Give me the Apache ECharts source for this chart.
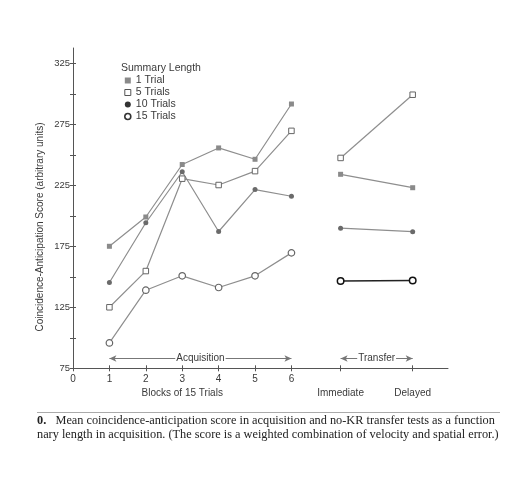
<!DOCTYPE html>
<html>
<head>
<meta charset="utf-8">
<script src="https://cdn.jsdelivr.net/npm/echarts@6/dist/echarts.min.js"></script>
<style>
  html, body { margin: 0; padding: 0; background: #fff; }
  #chart { width: 523px; height: 479px; }
</style>
</head>
<body>
<div id="chart"></div>
<script>
// x positions
var blocks = [1, 2, 3, 4, 5, 6];
var transferPos = [7.35, 9.33];
var transferLabels = ['Immediate', 'Delayed'];

// scores
var oneTrialAcq = [175, 199, 242, 255.6, 246.3, 291.6];
var oneTrialTr = [234, 223];
var fiveTrialAcq = [125, 154.7, 230.4, 225.2, 236.6, 269.6];
var fiveTrialTr = [247.4, 299.2];
var tenTrialAcq = [145.3, 194.3, 236.1, 187.1, 221.5, 216];
var tenTrialTr = [189.8, 187];
var fifteenTrialAcq = [95.8, 139, 150.8, 141.2, 150.8, 169.6];
var fifteenTrialTr = [146.5, 147];

// ticks
var yTicks = [75, 100, 125, 150, 175, 200, 225, 250, 275, 300, 325];
var yLabels = [75, 125, 175, 225, 275, 325];
var xTicks = [0, 1, 2, 3, 4, 5, 6];
var arrowLevel = 83;

var zip = function (xs, ys) {
  return xs.map(function (x, i) { return [x, ys[i]]; });
};

var gray = '#8e8e8e';
var textColor = '#3a3a3a';

var lineSeries = function (name, xs, ys, symbol, size, itemStyle, lineColor, lineWidth) {
  return {
    name: name,
    type: 'line',
    data: zip(xs, ys),
    symbol: symbol,
    symbolSize: size,
    lineStyle: { color: lineColor || gray, width: lineWidth || 1.2 },
    itemStyle: itemStyle,
    emphasis: { disabled: true },
    animation: false,
    z: 3
  };
};

var s1 = { color: '#8a8a8a', borderColor: '#8a8a8a', borderWidth: 0 };
var s5 = { color: '#fff', borderColor: '#666', borderWidth: 1 };
var s10 = { color: '#6a6a6a', borderColor: '#6a6a6a', borderWidth: 0 };
var s15 = { color: '#fff', borderColor: '#666', borderWidth: 1.2 };
var s15t = { color: '#fff', borderColor: '#111', borderWidth: 1.5 };

var arrowMark = function (from, to, text) {
  return [{ coord: [from, arrowLevel] }, { coord: [to, arrowLevel], label: { formatter: text } }];
};

var series = [
  lineSeries('1 Trial', blocks, oneTrialAcq, 'rect', 5, s1),
  lineSeries('1 Trial', transferPos, oneTrialTr, 'rect', 5, s1),
  lineSeries('5 Trials', blocks, fiveTrialAcq, 'rect', 5.5, s5),
  lineSeries('5 Trials', transferPos, fiveTrialTr, 'rect', 5.5, s5),
  lineSeries('10 Trials', blocks, tenTrialAcq, 'circle', 5, s10),
  lineSeries('10 Trials', transferPos, tenTrialTr, 'circle', 5, s10),
  lineSeries('15 Trials', blocks, fifteenTrialAcq, 'circle', 6.5, s15),
  lineSeries('15 Trials', transferPos, fifteenTrialTr, 'circle', 6.5, s15t, '#222', 1.5)
];

series[0].markLine = {
  silent: true,
  animation: false,
  symbol: ['arrow', 'arrow'],
  symbolSize: [5, 7],
  lineStyle: { color: '#777', width: 1, type: 'solid' },
  label: {
    position: 'middle',
    distance: 0,
    verticalAlign: 'middle',
    align: 'center',
    color: textColor,
    fontSize: 10,
    fontFamily: 'Liberation Sans',
    backgroundColor: '#fff',
    padding: [0, 1]
  },
  data: [
    arrowMark(blocks[0], blocks[blocks.length - 1], 'Acquisition'),
    arrowMark(transferPos[0], transferPos[1], 'Transfer')
  ]
};

var near = function (a, b) { return Math.abs(a - b) < 0.01; };

var chart = echarts.init(document.getElementById('chart'), null, { renderer: 'canvas' });
chart.setOption({
  backgroundColor: '#fff',
  animation: false,
  textStyle: { fontFamily: 'Liberation Sans', color: textColor },
  title: {
    text: 'Summary Length',
    left: 116,
    top: 58,
    textStyle: { fontSize: 10.5, fontWeight: 'normal', color: textColor, fontFamily: 'Liberation Sans' }
  },
  legend: {
    orient: 'vertical',
    left: 119,
    top: 70,
    itemWidth: 6,
    itemHeight: 6,
    itemGap: 1,
    selectedMode: false,
    textStyle: { fontSize: 10.5, color: textColor },
    data: [
      { name: '1 Trial', icon: 'rect', itemStyle: { color: '#8a8a8a', borderWidth: 0 } },
      { name: '5 Trials', icon: 'rect', itemStyle: { color: '#fff', borderColor: '#555', borderWidth: 1 } },
      { name: '10 Trials', icon: 'circle', itemStyle: { color: '#333', borderWidth: 0 } },
      { name: '15 Trials', icon: 'circle', itemStyle: { color: '#fff', borderColor: '#333', borderWidth: 1.6 } }
    ]
  },
  grid: { left: 73, right: 75, top: 48, bottom: 110.7 },
  xAxis: [{
    type: 'value',
    min: 0,
    max: 10.3,
    axisLine: { show: true, lineStyle: { color: '#555', width: 1 } },
    axisTick: { show: true, length: 3, customValues: xTicks.concat(transferPos), lineStyle: { color: '#555' } },
    splitLine: { show: false },
    axisLabel: {
      customValues: xTicks.concat(transferPos),
      margin: 4,
      fontSize: 10,
      color: textColor,
      lineHeight: 14,
      formatter: function (v) {
        for (var i = 0; i < transferPos.length; i++) {
          if (near(v, transferPos[i])) return ' \n{n|' + transferLabels[i] + '}';
        }
        if (near(v, 3)) return '3\n{n|Blocks of 15 Trials}';
        return String(Math.round(v));
      },
      rich: { n: { fontSize: 10, lineHeight: 14, color: textColor } }
    }
  }, {
    type: 'value',
    min: 0,
    max: 10.3,
    position: 'bottom',
    axisLine: { show: false },
    axisTick: { show: true, inside: true, length: 3, customValues: xTicks.concat(transferPos), lineStyle: { color: '#555' } },
    axisLabel: { show: false },
    splitLine: { show: false }
  }],
  yAxis: [{
    type: 'value',
    min: 75,
    max: 337.5,
    axisLine: { show: true, lineStyle: { color: '#555', width: 1 } },
    axisTick: { show: true, length: 3, customValues: yTicks, lineStyle: { color: '#555' } },
    splitLine: { show: false },
    axisLabel: { customValues: yLabels, margin: 3, fontSize: 9.5, color: textColor }
  }, {
    type: 'value',
    min: 75,
    max: 337.5,
    position: 'left',
    axisLine: { show: false },
    axisTick: { show: true, inside: true, length: 3, customValues: yTicks, lineStyle: { color: '#555' } },
    axisLabel: { show: false },
    splitLine: { show: false }
  }],
  graphic: [
    {
      type: 'text',
      x: 40,
      y: 227,
      rotation: Math.PI / 2,
      style: {
        text: 'Coincidence-Anticipation Score (arbitrary units)',
        fill: textColor,
        font: '10px "Liberation Sans"',
        align: 'center',
        verticalAlign: 'middle'
      }
    },
    {
      type: 'line',
      shape: { x1: 37, y1: 412.5, x2: 500, y2: 412.5 },
      style: { stroke: '#aaa', lineWidth: 1 }
    },
    {
      type: 'text',
      x: 37,
      y: 421,
      style: {
        text: '{b|0.}   Mean coincidence-anticipation score in acquisition and no-KR transfer tests as a function',
        fill: '#222',
        font: '12.3px "Liberation Serif"',
        verticalAlign: 'middle',
        rich: { b: { font: 'bold 12.3px "Liberation Serif"', fill: '#222' } }
      }
    },
    {
      type: 'text',
      x: 37,
      y: 435,
      style: {
        text: 'nary length in acquisition. (The score is a weighted combination of velocity and spatial error.)',
        fill: '#222',
        font: '12.3px "Liberation Serif"',
        verticalAlign: 'middle'
      }
    }
  ],
  series: series
});
</script>
</body>
</html>
